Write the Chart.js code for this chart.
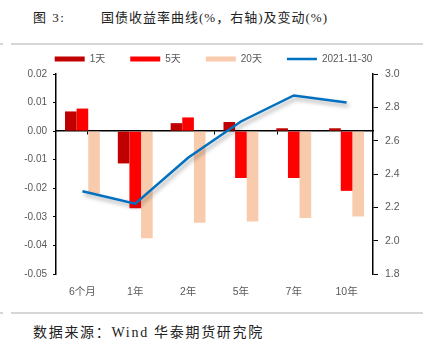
<!DOCTYPE html>
<html>
<head>
<meta charset="utf-8">
<script src="https://cdn.jsdelivr.net/npm/chart.js@4.4.1/dist/chart.umd.min.js"></script>
<style>
  html, body { margin: 0; padding: 0; background: #fff; }
  #page { position: relative; width: 427px; height: 344px; overflow: hidden; }
  .caption { position: absolute; white-space: pre; color: #222;
             font-family: "Liberation Serif", "Noto Sans CJK SC", serif; }
  #figNo { left: 33px; top: 7px; font-size: 13px; letter-spacing: 1.5px; }
  #title { left: 101px; top: 7px; font-size: 13px; letter-spacing: 1px; }
  #source { left: 33px; top: 321px; font-size: 14px; letter-spacing: 1.7px; }
  .rule { position: absolute; height: 2px; background: #d6d6d6; }
  #chartBox { position: absolute; left: 0; top: 29px; width: 427px; height: 275px; }
</style>
</head>
<body>
<div id="page">
  <div id="figNo" class="caption">图 3:</div>
  <div id="title" class="caption">国债收益率曲线(%，右轴)及变动(%)</div>
  <div class="rule" style="left:0;width:3px;top:43px"></div>
  <div class="rule" style="left:11px;width:412px;top:43px"></div>
  <div class="rule" style="left:0;width:3px;top:312px"></div>
  <div class="rule" style="left:11px;width:412px;top:312px"></div>
  <div id="chartBox"><canvas id="curveChart" width="427" height="275"></canvas></div>
  <div id="source" class="caption">数据来源：Wind 华泰期货研究院</div>
</div>
<script>
// tenors and values (changes in %, yield in %)
const categories = ["6个月", "1年", "2年", "5年", "7年", "10年"];
const change1d = [0.0069, -0.0113, 0.0028, 0.0032, 0.0010, 0.0010];
const change5d = [0.0079, -0.0270, 0.0048, -0.0164, -0.0164, -0.0209];
const change20d = [-0.0219, -0.0375, -0.0321, -0.0316, -0.0304, -0.0299];
const yield20211130 = [2.297, 2.222, 2.497, 2.715, 2.871, 2.829];

const textColor = "#595959";
const axisColor = "#000000";
Chart.defaults.font.family = "'Liberation Sans', 'Noto Sans CJK SC', sans-serif";

// soft drop shadow under the yield curve
const lineShadow = {
    id: "lineShadow",
    beforeDatasetDraw(chart, args) {
        if (chart.data.datasets[args.index].type !== "line") return;
        const ctx = chart.ctx;
        ctx.save();
        ctx.shadowColor = "rgba(0,0,0,0.35)";
        ctx.shadowBlur = 4;
        ctx.shadowOffsetX = 2;
        ctx.shadowOffsetY = 3;
    },
    afterDatasetDraw(chart, args) {
        if (chart.data.datasets[args.index].type !== "line") return;
        chart.ctx.restore();
    }
};

const ctx = document.getElementById("curveChart");
const chart = new Chart(ctx, {
    data: {
        labels: categories,
        datasets: [
            { type: "bar", label: "1天", data: change1d, backgroundColor: "#C00000", yAxisID: "y", order: 1 },
            { type: "bar", label: "5天", data: change5d, backgroundColor: "#FF0000", yAxisID: "y", order: 1 },
            { type: "bar", label: "20天", data: change20d, backgroundColor: "#F8CBAD", yAxisID: "y", order: 1 },
            { type: "line", label: "2021-11-30", data: yield20211130, borderColor: "#0070C0",
              backgroundColor: "#0070C0", borderWidth: 2.5, pointRadius: 0, tension: 0,
              yAxisID: "y1", order: 0 }
        ]
    },
    options: {
        responsive: false,
        animation: false,
        devicePixelRatio: 1,
        layout: { padding: 0 },
        datasets: {
            bar: { categoryPercentage: 0.66, barPercentage: 1.0 }
        },
        plugins: {
            tooltip: { enabled: false },
            legend: {
                position: "top",
                maxHeight: 46,
                labels: {
                    color: textColor,
                    font: { size: 10 },
                    usePointStyle: true,
                    pointStyleWidth: 30,
                    boxHeight: 5,
                    padding: 25,
                    sort: (a, b) => a.datasetIndex - b.datasetIndex,
                    generateLabels: function(chart) {
                        return chart.data.datasets.map((ds, i) => ({
                            text: ds.label,
                            fillStyle: ds.backgroundColor,
                            strokeStyle: ds.type === "line" ? ds.borderColor : ds.backgroundColor,
                            lineWidth: ds.type === "line" ? 2.5 : 0,
                            pointStyle: ds.type === "line" ? "line" : "rect",
                            fontColor: textColor,
                            hidden: false,
                            datasetIndex: i
                        }));
                    }
                }
            }
        },
        scales: {
            x: {
                type: "category",
                position: "bottom",
                grid: { display: false, drawTicks: false },
                border: { display: false },
                ticks: { color: textColor, font: { size: 10.5 }, padding: 12 },
                afterFit: scale => { scale.height = 30; }
            },
            // zero line with its short tick marks between tenors
            xZero: {
                type: "category",
                position: { y: 0 },
                z: 1,
                grid: { drawOnChartArea: false, offset: true, tickLength: 3, color: axisColor, lineWidth: 1 },
                border: { color: axisColor, width: 1.5 },
                ticks: { display: false }
            },
            y: {
                position: "left",
                min: -0.05,
                max: 0.02,
                ticks: {
                    stepSize: 0.01,
                    color: textColor,
                    font: { size: 10 },
                    padding: 6,
                    callback: v => (Math.abs(v) < 1e-9 ? 0 : v).toFixed(2)
                },
                grid: { drawOnChartArea: false, tickLength: 3, color: axisColor },
                border: { color: axisColor, width: 1.5 },
                afterFit: scale => { scale.width = 56; }
            },
            y1: {
                position: "right",
                min: 1.8,
                max: 3.0,
                ticks: {
                    stepSize: 0.2,
                    color: textColor,
                    font: { size: 10.5 },
                    padding: 7,
                    callback: v => v.toFixed(1)
                },
                grid: { drawOnChartArea: false, tickLength: 5, color: axisColor },
                border: { color: axisColor, width: 1.5 },
                afterFit: scale => { scale.width = 54; }
            }
        }
    },
    plugins: [lineShadow]
});
</script>
</body>
</html>
